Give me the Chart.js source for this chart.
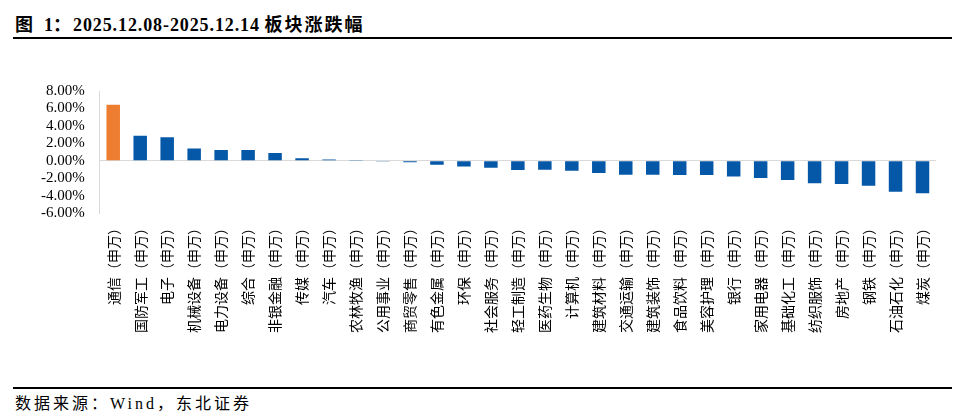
<!DOCTYPE html>
<html>
<head>
<meta charset="utf-8">
<script src="https://cdn.jsdelivr.net/npm/chart.js@4/dist/chart.umd.min.js"></script>
<style>
    html, body { margin: 0; padding: 0; background: #fff; }
    body { width: 965px; height: 419px; position: relative; overflow: hidden; }
    .title {
        position: absolute; left: 15px; top: 10px;
        font-family: "Liberation Serif", "Noto Sans CJK SC", serif;
        font-size: 18px; font-weight: bold; color: #000; white-space: nowrap;
    }
    .title .cjk { font-family: "Noto Sans CJK SC", sans-serif; letter-spacing: 2px; }
    .title .num { letter-spacing: 0.9px; }
    .rule { position: absolute; left: 13px; width: 939px; height: 1.5px; background: #000; }
    .source {
        position: absolute; left: 15px; top: 390px;
        font-family: "Liberation Serif", "Noto Sans CJK SC", serif;
        font-size: 16px; color: #000; letter-spacing: 3px; white-space: nowrap;
    }
    .source .cjk { font-family: "Noto Sans CJK SC", sans-serif; }
    #wrap { position: absolute; left: 0; top: 50px; width: 965px; height: 300px; }
</style>
</head>
<body>
<div class="title"><span class="cjk">图</span>&nbsp;&nbsp;1<span class="cjk">：</span><span class="num">2025.12.08-2025.12.14</span>&nbsp;<span class="cjk">板块涨跌幅</span></div>
<div class="rule" style="top:37px"></div>
<div id="wrap"><canvas id="sectorChart"></canvas></div>
<div class="rule" style="top:387px"></div>
<div class="source"><span class="cjk">数据来源：</span>Wind<span class="cjk">，东北证券</span></div>

<script>
// 申万一级行业周涨跌幅（%）
const categories = [
    '通信（申万）', '国防军工（申万）', '电子（申万）', '机械设备（申万）', '电力设备（申万）',
    '综合（申万）', '非银金融（申万）', '传媒（申万）', '汽车（申万）', '农林牧渔（申万）',
    '公用事业（申万）', '商贸零售（申万）', '有色金属（申万）', '环保（申万）', '社会服务（申万）',
    '轻工制造（申万）', '医药生物（申万）', '计算机（申万）', '建筑材料（申万）', '交通运输（申万）',
    '建筑装饰（申万）', '食品饮料（申万）', '美容护理（申万）', '银行（申万）', '家用电器（申万）',
    '基础化工（申万）', '纺织服饰（申万）', '房地产（申万）', '钢铁（申万）', '石油石化（申万）',
    '煤炭（申万）'
];
const changes = [
    6.42, 2.87, 2.68, 1.41, 1.23,
    1.22, 0.88, 0.27, 0.15, 0.02,
    -0.03, -0.19, -0.46, -0.65, -0.80,
    -1.07, -1.05, -1.15, -1.41, -1.61,
    -1.62, -1.64, -1.65, -1.80, -1.99,
    -2.22, -2.60, -2.68, -2.87, -3.56,
    -3.72
];
const yTickValues = [-6, -4, -2, 0, 2, 4, 6, 8];

const blue = '#0558A8';
const orange = '#ED7D31';
const barColors = changes.map((v, i) => i === 0 ? orange : blue);

document.addEventListener('DOMContentLoaded', function() {
    const ctx = document.getElementById('sectorChart');
    new Chart(ctx, {
        type: 'bar',
        data: {
            labels: categories,
            datasets: [{
                data: changes,
                backgroundColor: barColors,
                borderWidth: 0,
                barPercentage: 0.5,
                categoryPercentage: 1.0
            }]
        },
        options: {
            responsive: true,
            maintainAspectRatio: false,
            animation: false,
            layout: {
                padding: { left: 26, right: 29, top: 41, bottom: 15 }
            },
            plugins: {
                legend: { display: false },
                title: { display: false },
                tooltip: { enabled: false }
            },
            scales: {
                y: {
                    min: yTickValues[0],
                    max: yTickValues[yTickValues.length - 1],
                    afterBuildTicks: function(axis) {
                        axis.ticks = yTickValues.map(v => ({ value: v }));
                    },
                    ticks: {
                        color: '#000',
                        autoSkip: false,
                        padding: 15,
                        font: { family: '"Liberation Serif", serif', size: 15 },
                        callback: function(value) {
                            return Number(value).toFixed(2) + '%';
                        }
                    },
                    grid: {
                        drawTicks: false,
                        color: function(c) {
                            return c.tick && c.tick.value === 0 ? '#d9d9d9' : 'rgba(0,0,0,0)';
                        },
                        lineWidth: 1
                    },
                    border: { display: true, color: '#d9d9d9' }
                },
                x: {
                    grid: { display: false, drawTicks: false },
                    border: { display: false },
                    ticks: {
                        color: '#000',
                        autoSkip: false,
                        minRotation: 90,
                        maxRotation: 90,
                        padding: 8,
                        font: { family: '"Noto Sans CJK SC", sans-serif', size: 14 }
                    }
                }
            }
        }
    });
});
</script>
</body>
</html>
